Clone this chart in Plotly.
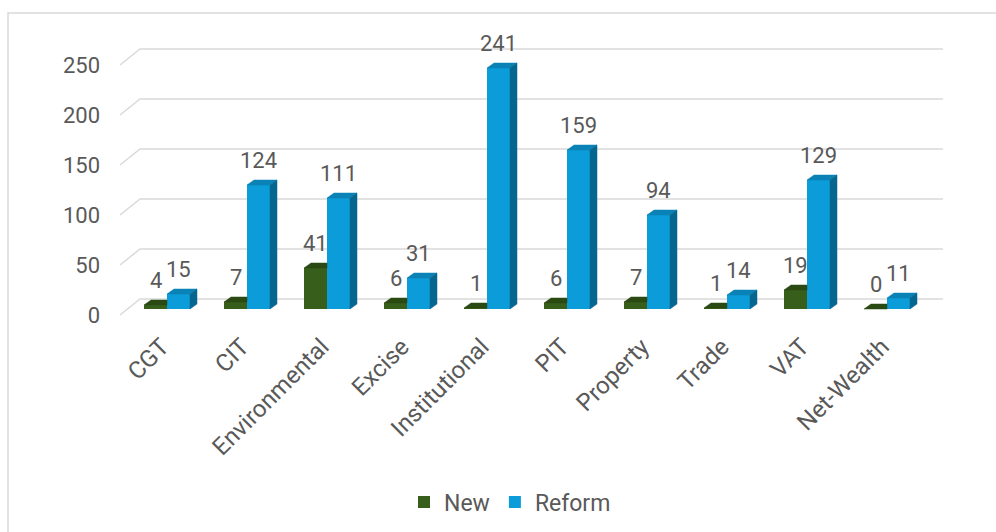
import plotly.graph_objects as go

# ---- data -------------------------------------------------------------
categories = ["CGT", "CIT", "Environmental", "Excise", "Institutional",
              "PIT", "Property", "Trade", "VAT", "Net-Wealth"]
new_counts = [4, 7, 41, 6, 1, 6, 7, 1, 19, 0]
reform_counts = [15, 124, 111, 31, 241, 159, 94, 14, 129, 11]
y_ticks = [0, 50, 100, 150, 200, 250]

# ---- pseudo-3D geometry (x: one unit per category, y: value units) -----
BAR_W = 0.2875            # width of one column's front face
BAR_BASE = 6              # columns stand this far behind the floor's front edge
BAR_DX, BAR_DY = 0.0875, 5  # projected depth of a column
FLOOR_DX, FLOOR_DY = 0.25, 16  # projected depth of the floor / back wall
FLOOR_X0, FLOOR_X1 = -0.5875, 9.45

NEW_FRONT, NEW_TOP = "#375e1a", "#2a4913"
REF_FRONT, REF_TOP, REF_SIDE = "#0b9cd9", "#0a82b6", "#07668f"
GRID = "#d9d9d9"
TEXT = "#595959"
FONT = "Roboto"

L, R, T, B = 105, 36, 20, 214
W, H = 996, 532
PW, PH = W - L - R, H - T - B

idx = list(range(len(categories)))
new_x = [i - BAR_W / 2 for i in idx]
ref_x = [i + BAR_W / 2 for i in idx]

fig = go.Figure()

# front faces
fig.add_trace(go.Bar(x=new_x, y=new_counts, base=BAR_BASE, width=BAR_W,
                     marker=dict(color=NEW_FRONT, line=dict(width=0)),
                     name="New", hoverinfo="skip"))
fig.add_trace(go.Bar(x=ref_x, y=reform_counts, base=BAR_BASE, width=BAR_W,
                     marker=dict(color=REF_FRONT, line=dict(width=0)),
                     name="Reform", hoverinfo="skip"))


def poly_trace(xs, ys, color):
    return go.Scatter(x=xs, y=ys, mode="lines", fill="toself",
                      fillcolor=color, line=dict(color=color, width=0.5),
                      showlegend=False, hoverinfo="skip")


# top faces of "New" columns (the part behind the adjacent column is hidden)
nx, ny = [], []
for i, v, rv in zip(idx, new_counts, reform_counts):
    x0, x1 = i - BAR_W, i
    t = BAR_BASE + v
    if v <= rv:
        nx += [x0, x1, x1, x0 + BAR_DX, x0, None]
        ny += [t, t, t + BAR_DY, t + BAR_DY, t, None]
    else:
        nx += [x0, x1, x1 + BAR_DX, x0 + BAR_DX, x0, None]
        ny += [t, t, t + BAR_DY, t + BAR_DY, t, None]
fig.add_trace(poly_trace(nx, ny, NEW_TOP))

# top and side faces of "Reform" columns
tx, ty, sx, sy = [], [], [], []
for i, v in zip(idx, reform_counts):
    x0, x1 = i, i + BAR_W
    t = BAR_BASE + v
    tx += [x0, x1, x1 + BAR_DX, x0 + BAR_DX, x0, None]
    ty += [t, t, t + BAR_DY, t + BAR_DY, t, None]
    sx += [x1, x1, x1 + BAR_DX, x1 + BAR_DX, x1, None]
    sy += [BAR_BASE, t, t + BAR_DY, BAR_BASE + BAR_DY, BAR_BASE, None]
fig.add_trace(poly_trace(tx, ty, REF_TOP))
fig.add_trace(poly_trace(sx, sy, REF_SIDE))

# gridlines on the floor edge and back wall
shapes = []
for g in y_ticks:
    path = (f"M {FLOOR_X0},{g} L {FLOOR_X0 + FLOOR_DX},{g + FLOOR_DY} "
            f"L {FLOOR_X1 + FLOOR_DX},{g + FLOOR_DY}")
    shapes.append(dict(type="path", path=path, xref="x", yref="y",
                       layer="below", line=dict(color=GRID, width=1.5)))

# chart-area border
shapes.append(dict(type="rect", xref="paper", yref="paper",
                   x0=(8 - L) / PW, x1=(W + 20 - L) / PW,
                   y0=1 + (T - 13) / PH, y1=-(B + 20) / PH,
                   layer="below", line=dict(color=GRID, width=1.5),
                   fillcolor="rgba(0,0,0,0)"))

# value labels
annotations = []
for xs, vals in ((new_x, new_counts), (ref_x, reform_counts)):
    for x, v in zip(xs, vals):
        annotations.append(dict(x=x, y=BAR_BASE + v + BAR_DY, text=str(v),
                                xref="x", yref="y", showarrow=False,
                                xanchor="center", yanchor="bottom", yshift=5,
                                font=dict(family=FONT, size=22, color=TEXT)))

fig.update_layout(
    width=W, height=H,
    margin=dict(l=L, r=R, t=T, b=B, autoexpand=False),
    paper_bgcolor="white", plot_bgcolor="white",
    barmode="overlay",
    showlegend=True,
    legend=dict(orientation="h", x=(510 - L) / PW, xanchor="center",
                y=(T + PH - 502) / PH, yanchor="middle",
                font=dict(family=FONT, size=23, color=TEXT),
                itemwidth=30),
    shapes=shapes,
    annotations=annotations,
    xaxis=dict(range=[(L - 167) / 80, (W - R - 167) / 80],
               tickvals=idx, ticktext=categories, tickangle=-45,
               showgrid=False, zeroline=False, showline=False, ticks="",
               ticklabelstandoff=9, ticklabelshift=-5, automargin=False,
               tickfont=dict(family=FONT, size=24, color=TEXT)),
    yaxis=dict(range=[315 - (T + PH), 315 - T],
               tickvals=y_ticks, showgrid=False, zeroline=False,
               showline=False, ticks="", ticklabelstandoff=4, automargin=False,
               tickfont=dict(family=FONT, size=22, color=TEXT)),
)

fig.write_html("out.html")
